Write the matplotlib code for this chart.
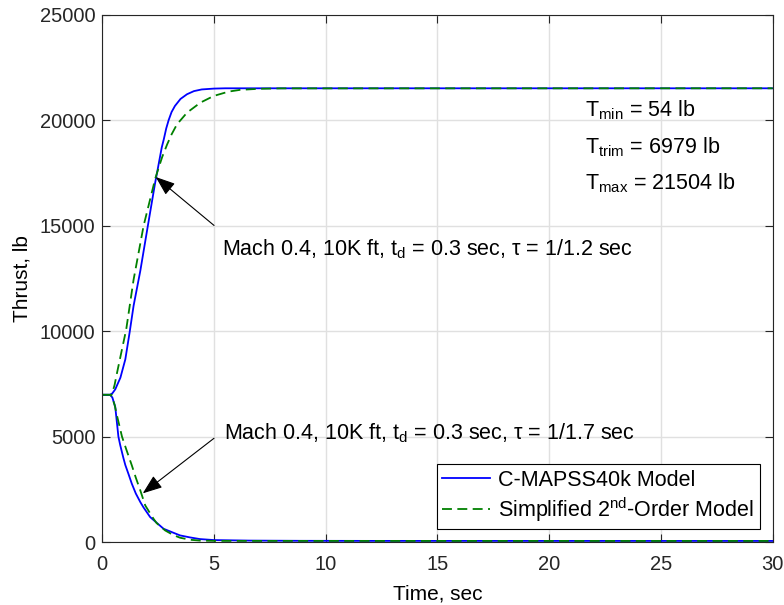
import matplotlib.pyplot as plt

plt.rcParams['font.family'] = ['Liberation Sans', 'DejaVu Sans']
plt.rcParams['mathtext.fontset'] = 'custom'
plt.rcParams['mathtext.rm'] = 'Liberation Sans'
plt.rcParams['mathtext.it'] = 'Liberation Sans:italic'
plt.rcParams['mathtext.default'] = 'regular'

# step up (Mach 0.4, tau = 1/1.2 sec)
up_t_cm = [0, 0.35, 0.45, 0.58, 0.81, 1.03, 1.22, 1.40, 1.70, 2.04, 2.36, 2.48,
           2.66, 2.75, 2.86, 2.97, 3.10, 3.25, 3.50, 3.79, 4.10, 4.45, 5.0, 5.5, 30]
up_cm = [6979, 6979, 7050, 7240, 7792, 8660, 9921, 11200, 12850, 15000, 17000, 17673,
         18700, 19079, 19600, 20000, 20380, 20667, 21000, 21222, 21370, 21450, 21490,
         21504, 21504]
up_t_so = [0, 0.35, 0.43, 0.55, 0.66, 0.88, 1.07, 1.40, 1.85, 2.37, 2.45, 2.68, 2.90,
           3.10, 3.34, 3.79, 4.39, 4.99, 5.66, 6.16, 7.0, 8.0, 30]
up_so = [6979, 6979, 7000, 7450, 8028, 9132, 10079, 12437, 15000, 17230, 17500, 18250,
         18841, 19320, 19794, 20349, 20825, 21143, 21349, 21429, 21480, 21500, 21504]

# step down (Mach 0.4, tau = 1/1.7 sec)
dn_t_cm = [0, 0.35, 0.45, 0.58, 0.72, 0.80, 0.94, 1.03, 1.18, 1.32, 1.50, 1.70, 1.84,
           2.14, 2.43, 2.74, 3.18, 3.48, 3.93, 4.37, 5.0, 6.6, 8.8, 12, 30]
dn_cm = [6979, 6979, 6850, 6400, 5000, 4600, 4000, 3650, 3200, 2767, 2300, 1897, 1650,
         1186, 918, 632, 443, 316, 220, 142, 95, 70, 60, 56, 54]
dn_t_so = [0, 0.35, 0.43, 0.55, 0.66, 0.88, 1.07, 1.32, 1.50, 1.70, 1.92, 2.0, 2.29,
           2.43, 2.81, 3.18, 3.48, 3.93, 4.37, 5.1, 30]
dn_so = [6979, 6979, 6900, 6500, 5978, 5000, 4400, 3636, 3050, 2450, 1739, 1600, 1107,
         900, 553, 332, 206, 110, 70, 56, 54]

fig = plt.figure(figsize=(7.84, 6.05), dpi=100)
ax = fig.add_axes([0.1305, 0.104, 0.855, 0.872])

ax.plot(up_t_cm, up_cm, color='#0000ff', lw=1.3, label='C-MAPSS40k Model')
ax.plot(up_t_so, up_so, color='#008000', lw=1.3, ls=(0, (5.5, 3)),
        label=r'Simplified 2$^{\mathrm{nd}}$-Order Model')
ax.plot(dn_t_cm, dn_cm, color='#0000ff', lw=1.3)
ax.plot(dn_t_so, dn_so, color='#008000', lw=1.3, ls=(0, (5.5, 3)))

ax.set_xlim(0, 30)
ax.set_ylim(0, 25000)
ax.set_xticks(range(0, 31, 5))
ax.set_yticks(range(0, 25001, 5000))
ax.grid(True, color='#e0e0e0', lw=1)
ax.set_axisbelow(True)
ax.tick_params(direction='in', top=True, right=True, labelsize=14.5,
               colors='#262626', length=6)
ax.tick_params(axis='x', pad=9)
ax.tick_params(axis='y', pad=5)
for s in ax.spines.values():
    s.set_color('#262626')
ax.set_xlabel('Time, sec', fontsize=15, labelpad=8)
ax.set_ylabel('Thrust, lb', fontsize=15, labelpad=6)

arrow = dict(arrowstyle='-|>,head_length=0.8,head_width=0.3', color='black',
             lw=0.8, mutation_scale=15, shrinkA=0, shrinkB=0)
ax.annotate('', xy=(2.39, 17300), xytext=(5.0, 15005), arrowprops=arrow)
ax.annotate('', xy=(1.81, 2310), xytext=(5.0, 4920), arrowprops=arrow)
ax.text(5.35, 13570, r'Mach 0.4, 10K ft, t$_d$ = 0.3 sec, $\tau$ = 1/1.2 sec',
        fontsize=15.5, va='baseline')
ax.text(5.45, 4870, r'Mach 0.4, 10K ft, t$_d$ = 0.3 sec, $\tau$ = 1/1.7 sec',
        fontsize=15.5, va='baseline')

ax.text(21.6, 20150, r'T$_{\mathrm{min}}$ = 54 lb', fontsize=15.5, va='baseline')
ax.text(21.6, 18440, r'T$_{\mathrm{trim}}$ = 6979 lb', fontsize=15.5, va='baseline')
ax.text(21.6, 16730, r'T$_{\mathrm{max}}$ = 21504 lb', fontsize=15.5, va='baseline')

leg = ax.legend(loc='lower right', fontsize=15.5, handlelength=2.2, fancybox=False,
                framealpha=1, edgecolor='black', borderaxespad=0.6,
                borderpad=0.25, labelspacing=0.2, handletextpad=0.4)
leg.get_frame().set_linewidth(0.8)

fig.savefig('out.png', dpi=100)
